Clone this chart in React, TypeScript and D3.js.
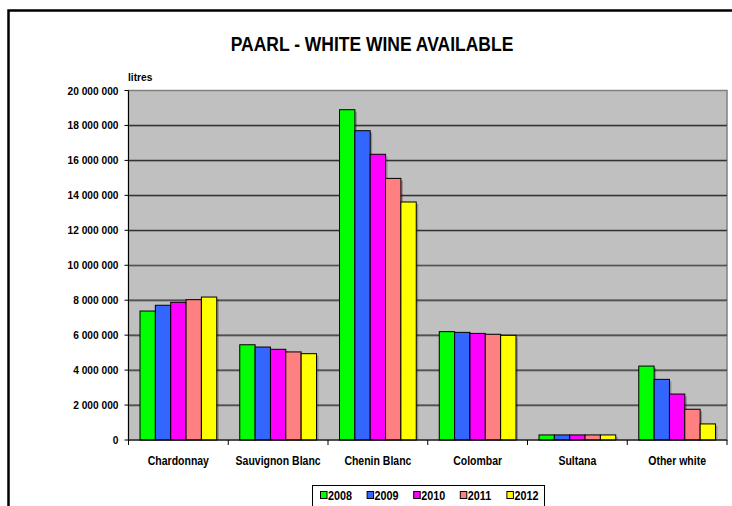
import * as d3 from 'd3';
import type { ReactNode } from 'react';

const categories = ['Chardonnay', 'Sauvignon Blanc', 'Chenin Blanc', 'Colombar', 'Sultana', 'Other white'];
const years = ['2008', '2009', '2010', '2011', '2012'];
const colors = ['#00FF00', '#3366FF', '#FF00FF', '#FF8080', '#FFFF00'];

// litres per category, one value per year
const v2008 = [7380000, 5450000, 18900000, 6200000, 290000, 4230000];
const v2009 = [7710000, 5320000, 17700000, 6160000, 290000, 3470000];
const v2010 = [7880000, 5190000, 16350000, 6100000, 290000, 2630000];
const v2011 = [8030000, 5040000, 14970000, 6050000, 290000, 1760000];
const v2012 = [8180000, 4940000, 13620000, 5990000, 290000, 920000];
const series = [v2008, v2009, v2010, v2011, v2012];

const yTicks = [0, 2000000, 4000000, 6000000, 8000000, 10000000, 12000000, 14000000, 16000000, 18000000, 20000000];

const W = 732;
const H = 506;
const PLOT = { left: 128.5, right: 727, top: 90.5, bottom: 440 };
const FONT = 'Arial, "Liberation Sans", sans-serif';

const fmt = (n: number) => d3.format(',')(n).replace(/,/g, ' ');

// the source renders its bold text slightly stretched vertically
function Txt({ x, y, size, anchor = 'start', children }: { x: number; y: number; size: number; anchor?: string; children: ReactNode }) {
  return (
    <text
      transform={`translate(${x},${y}) scale(1,1.15)`}
      textAnchor={anchor}
      fontSize={size}
      fontWeight={700}
    >
      {children}
    </text>
  );
}

export default function App() {
  const x0 = d3.scaleBand<string>().domain(categories).range([PLOT.left, PLOT.right]);
  const bw = x0.bandwidth();
  const barW = bw / 6.5;
  const x1 = d3
    .scaleBand<string>()
    .domain(years)
    .range([(bw - barW * 5) / 2, (bw + barW * 5) / 2]);
  const y = d3.scaleLinear().domain([0, 20000000]).range([PLOT.bottom, PLOT.top]);

  return (
    <svg
      width={W}
      height={H}
      style={{ position: 'absolute', left: 0, top: 0, background: '#fff' }}
      fontFamily={FONT}
    >
      {/* outer frame, runs off the picture on right and bottom */}
      <rect x={8.5} y={10.5} width={W + 20} height={H + 20} fill="#fff" stroke="#000" strokeWidth={2.5} />

      <Txt x={372} y={51} size={17.5} anchor="middle">
        PAARL - WHITE WINE AVAILABLE
      </Txt>

      {/* plot area */}
      <rect
        x={PLOT.left}
        y={PLOT.top}
        width={PLOT.right - PLOT.left}
        height={PLOT.bottom - PLOT.top}
        fill="#C0C0C0"
        stroke="#808080"
        strokeWidth={1.5}
      />

      {/* gridlines */}
      {yTicks
        .filter((t) => t > 0 && t < 20000000)
        .map((t) => (
          <g key={t}>
            <line x1={PLOT.left} x2={PLOT.right} y1={y(t) + 1} y2={y(t) + 1} stroke="#8a8a8a" strokeWidth={1} />
            <line x1={PLOT.left} x2={PLOT.right} y1={y(t)} y2={y(t)} stroke="#333" strokeWidth={1.2} />
          </g>
        ))}

      {/* bars */}
      {categories.map((c, ci) => (
        <g key={c} transform={`translate(${x0(c)},0)`}>
          {years.map((yr, si) => {
            const v = series[si][ci];
            const bx = x1(yr) ?? 0;
            return (
              <rect
                key={'s' + yr}
                x={bx + 2}
                y={y(v) + 2}
                width={barW}
                height={PLOT.bottom - y(v) - 2}
                fill="#000"
                opacity={0.25}
              />
            );
          })}
          {years.map((yr, si) => {
            const v = series[si][ci];
            const bx = x1(yr) ?? 0;
            return (
              <rect
                key={yr}
                x={bx}
                y={y(v)}
                width={barW}
                height={PLOT.bottom - y(v)}
                fill={colors[si]}
                stroke="#000"
                strokeWidth={1}
              />
            );
          })}
        </g>
      ))}

      {/* y axis */}
      <line x1={PLOT.left} x2={PLOT.left} y1={PLOT.top} y2={PLOT.bottom} stroke="#000" strokeWidth={1} />
      {yTicks.map((t) => (
        <g key={t}>
          <line x1={PLOT.left - 4} x2={PLOT.left} y1={y(t)} y2={y(t)} stroke="#000" strokeWidth={1} />
          <Txt x={118.5} y={y(t) + 4} size={10.2} anchor="end">
            {fmt(t)}
          </Txt>
        </g>
      ))}
      <Txt x={128} y={81} size={10.2}>
        litres
      </Txt>

      {/* x axis */}
      <line x1={PLOT.left} x2={PLOT.right} y1={PLOT.bottom} y2={PLOT.bottom} stroke="#000" strokeWidth={1.2} />
      {categories.map((c) => (
        <g key={c}>
          <line
            x1={(x0(c) ?? 0) + bw}
            x2={(x0(c) ?? 0) + bw}
            y1={PLOT.bottom}
            y2={PLOT.bottom + 5}
            stroke="#000"
            strokeWidth={1}
          />
          <Txt x={(x0(c) ?? 0) + bw / 2} y={464.5} size={10.5} anchor="middle">
            {c}
          </Txt>
        </g>
      ))}
      <line x1={PLOT.left} x2={PLOT.left} y1={PLOT.bottom} y2={PLOT.bottom + 5} stroke="#000" strokeWidth={1} />

      {/* legend */}
      <rect x={312.5} y={485.5} width={232} height={30} fill="#fff" stroke="#000" strokeWidth={1} />
      {years.map((yr, i) => {
        const lx = 320 + i * 46.6;
        return (
          <g key={yr}>
            <rect x={lx + 0.5} y={491.5} width={6.5} height={7} fill={colors[i]} stroke="#000" strokeWidth={1} />
            <Txt x={lx + 8} y={500} size={10.8}>
              {yr}
            </Txt>
          </g>
        );
      })}
    </svg>
  );
}
